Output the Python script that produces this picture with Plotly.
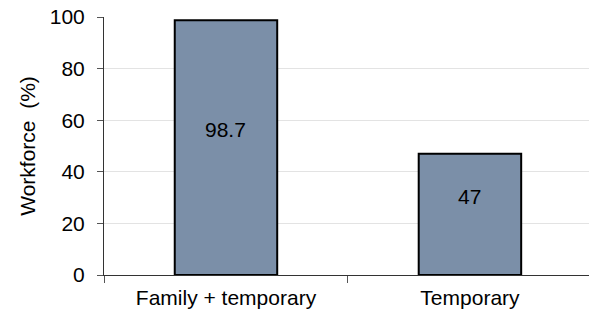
import plotly.graph_objects as go

categories = ["Family + temporary", "Temporary"]
values = [98.7, 47]
labels = ["98.7", "47"]

FONT = "Liberation Sans, Arial, sans-serif"
FS = 21

fig = go.Figure()
fig.add_trace(go.Bar(
    x=categories, y=values, width=0.42,
    marker=dict(color="#7b8fa8", line=dict(color="#000000", width=2)),
    hoverinfo="skip",
))
for c, v, t in zip(categories, values, labels):
    fig.add_annotation(x=c, y=v / 2, text=t, showarrow=False, yshift=18,
                       font=dict(family=FONT, size=FS, color="#000000"))

fig.update_layout(
    width=589, height=315,
    margin=dict(l=104, r=0, t=17, b=40),
    paper_bgcolor="white", plot_bgcolor="white",
    showlegend=False,
    font=dict(family=FONT, size=FS, color="#000000"),
)
fig.update_xaxes(
    type="category", tickson="boundaries", range=[-0.5, 1.488],
    ticks="outside", ticklen=7, tickcolor="#555555",
    showline=True, linecolor="#333333", linewidth=1,
    showgrid=False, tickfont=dict(size=FS), ticklabelstandoff=4,
)
fig.update_yaxes(
    range=[0, 100], tickvals=[0, 20, 40, 60, 80, 100],
    ticks="outside", ticklen=6, tickcolor="#555555",
    showline=True, linecolor="#333333", linewidth=1,
    showgrid=True, gridcolor="#e3e3e3", gridwidth=1,
    tickfont=dict(size=FS), ticklabelstandoff=8,
    title=dict(text="Workforce  (%)", font=dict(size=FS), standoff=8),
)
fig.write_html("out.html", config={"displayModeBar": False},
               post_script="document.body.style.margin='0';")
